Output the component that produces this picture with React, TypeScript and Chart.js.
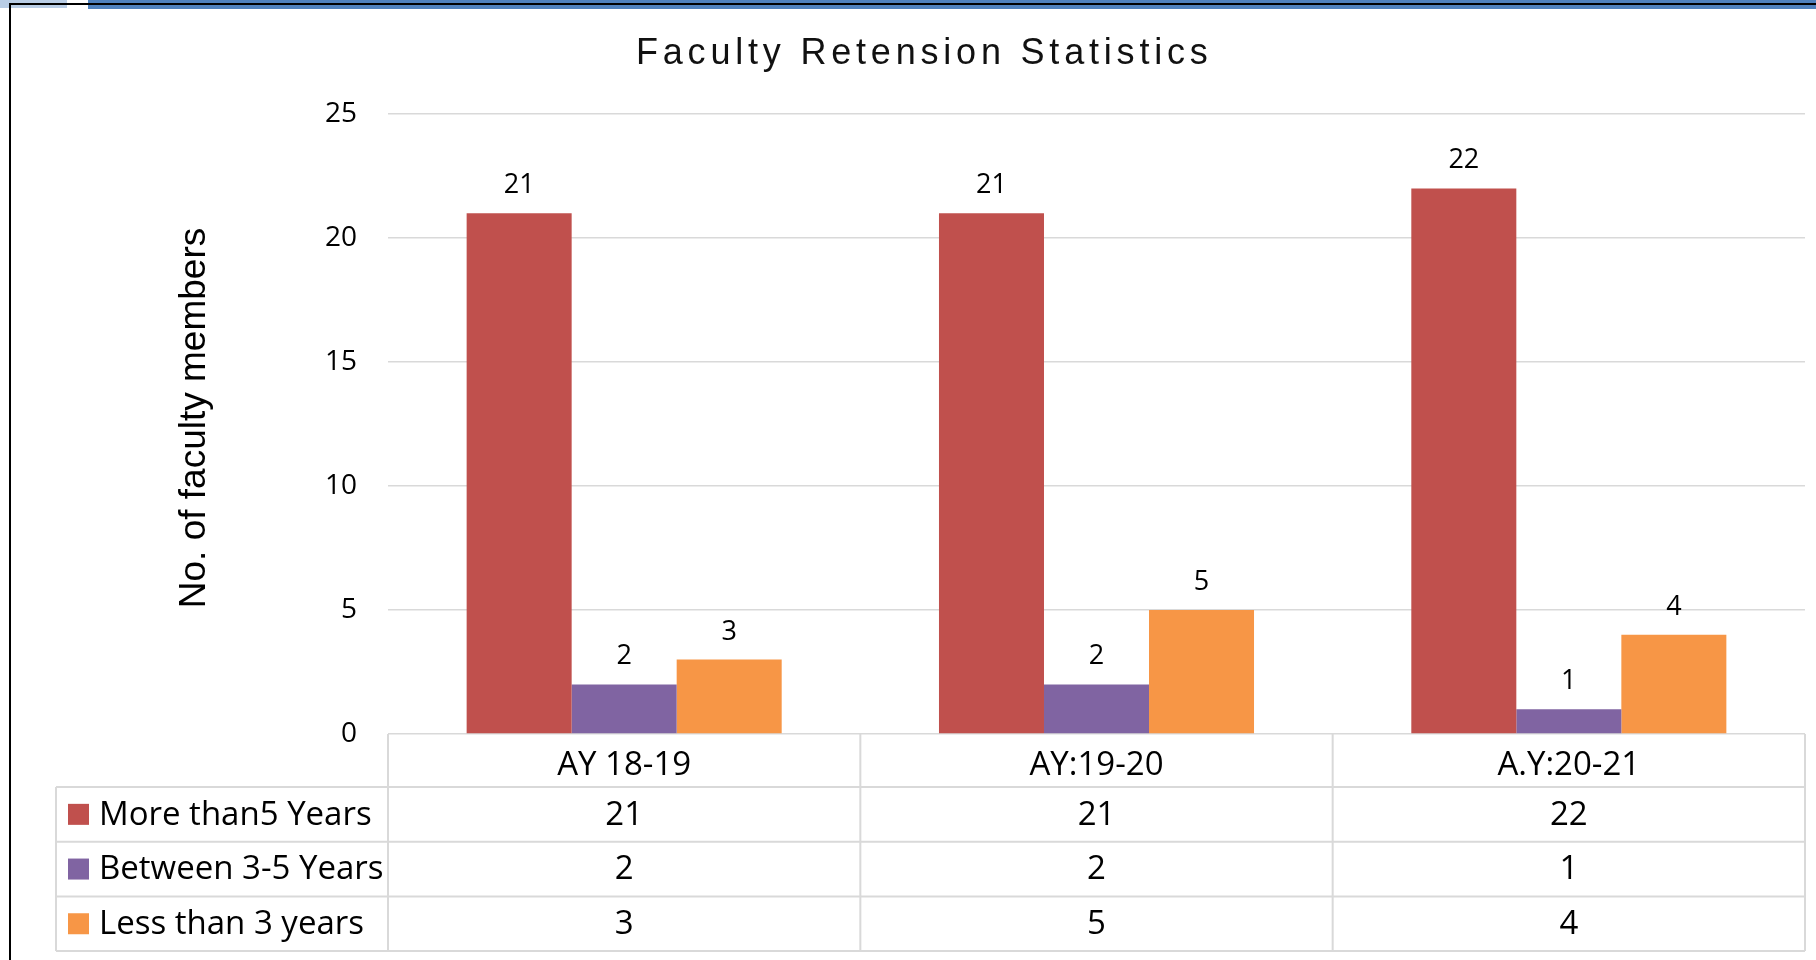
import React, { useEffect, useRef } from 'react';
import { Chart, registerables } from 'chart.js';

Chart.register(...registerables);

// ---- data ----
const categories = ['AY 18-19', 'AY:19-20', 'A.Y:20-21'];
const seriesNames = ['More than5 Years', 'Between 3-5 Years', 'Less than 3 years'];
const moreThan5Years = [21, 21, 22];
const between3to5Years = [2, 2, 1];
const lessThan3Years = [3, 5, 4];
const seriesColors = ['#C0504D', '#8064A2', '#F79646'];
const yMin = 0;
const yMax = 25;
const yStep = 5;
const chartTitle = 'Faculty Retension Statistics';
const yAxisTitle = 'No. of faculty members';

const W = 1816;
const H = 960;
const TABLE_FONT = '33px "Open Sans"';
const LINE = '#d9d9d9';

const decorPlugin = {
  id: 'decor',
  beforeDraw(chart: any) {
    const ctx = chart.ctx;
    ctx.save();
    ctx.fillStyle = '#ffffff';
    ctx.fillRect(0, 0, W, H);
    ctx.fillStyle = '#b9cde5';
    ctx.fillRect(0, 0, 67, 8);
    ctx.fillStyle = '#4f81bd';
    ctx.fillRect(88, 0, W - 88, 9);
    ctx.fillStyle = '#000000';
    ctx.fillRect(10, 3, W - 10, 2);
    ctx.fillRect(9, 3, 2, H - 3);
    ctx.restore();
  },
  afterDatasetsDraw(chart: any) {
    const ctx = chart.ctx;
    ctx.save();
    ctx.font = '27px "Open Sans"';
    ctx.fillStyle = '#000';
    ctx.textAlign = 'center';
    ctx.textBaseline = 'alphabetic';
    chart.data.datasets.forEach((ds: any, di: number) => {
      const meta = chart.getDatasetMeta(di);
      meta.data.forEach((el: any, i: number) => {
        ctx.fillText(String(ds.data[i]), el.x, el.y - 20);
      });
    });
    ctx.restore();
  },
  afterDraw(chart: any) {
    const ctx = chart.ctx;
    const area = chart.chartArea;
    ctx.save();
    // main title
    ctx.fillStyle = '#111';
    ctx.font = '36px "Liberation Sans"';
    (ctx as any).letterSpacing = '4.8px';
    ctx.textAlign = 'left';
    ctx.textBaseline = 'alphabetic';
    ctx.fillText(chartTitle, 636, 64);
    (ctx as any).letterSpacing = '0px';

    // y axis title
    ctx.save();
    ctx.translate(195, 418);
    ctx.rotate(-Math.PI / 2);
    ctx.font = '37px "Liberation Sans"';
    ctx.textAlign = 'center';
    ctx.textBaseline = 'middle';
    ctx.fillStyle = '#000';
    ctx.fillText(yAxisTitle, 0, 0);
    ctx.restore();

    // data table
    const n = categories.length;
    const left = area.left;
    const right = area.right;
    const top = area.bottom;
    const colW = (right - left) / n;
    const headerBottom = top + 53;
    const rowH = 54.7;
    const legendLeft = 56;
    const rowsAll = [moreThan5Years, between3to5Years, lessThan3Years];
    const tableBottom = headerBottom + rowH * rowsAll.length;

    ctx.strokeStyle = LINE;
    ctx.lineWidth = 2;
    ctx.beginPath();
    for (let r = 0; r <= rowsAll.length; r++) {
      const y = headerBottom + r * rowH;
      ctx.moveTo(legendLeft, y);
      ctx.lineTo(right, y);
    }
    for (let c = 0; c <= n; c++) {
      const x = left + c * colW;
      ctx.moveTo(x, top);
      ctx.lineTo(x, tableBottom);
    }
    ctx.moveTo(legendLeft, headerBottom);
    ctx.lineTo(legendLeft, tableBottom);
    ctx.stroke();

    ctx.font = TABLE_FONT;
    ctx.textBaseline = 'middle';
    rowsAll.forEach((vals, r) => {
      const cy = headerBottom + r * rowH + rowH / 2;
      ctx.fillStyle = seriesColors[r];
      ctx.fillRect(68, cy - 10.5, 21, 21);
      ctx.fillStyle = '#000';
      ctx.textAlign = 'left';
      ctx.fillText(seriesNames[r], 99, cy + 1);
      ctx.textAlign = 'center';
      vals.forEach((v, c) => {
        const cx = chart.scales.x.getPixelForValue(c);
        ctx.fillText(String(v), cx, cy + 1);
      });
    });
    ctx.restore();
  },
};

export default function App() {
  const ref = useRef<HTMLCanvasElement | null>(null);
  useEffect(() => {
    if (!ref.current) return;
    const chart = new Chart(ref.current, {
      type: 'bar',
      data: {
        labels: categories,
        datasets: [
          { label: seriesNames[0], data: moreThan5Years, backgroundColor: seriesColors[0] },
          { label: seriesNames[1], data: between3to5Years, backgroundColor: seriesColors[1] },
          { label: seriesNames[2], data: lessThan3Years, backgroundColor: seriesColors[2] },
        ],
      },
      options: {
        responsive: false,
        animation: false,
        devicePixelRatio: 1,
        layout: { padding: { top: 114, right: 11, left: 0, bottom: 0 } },
        datasets: { bar: { categoryPercentage: 0.667, barPercentage: 1 } } as any,
        plugins: {
          legend: { display: false },
          title: { display: false },
          tooltip: { enabled: false },
        },
        scales: {
          x: {
            grid: { display: false },
            border: { display: false },
            ticks: {
              font: { family: 'Open Sans', size: 33 },
              color: '#000',
              padding: 4,
              maxRotation: 0,
            },
            afterFit: (s: any) => {
              s.height = 226;
            },
          },
          y: {
            min: yMin,
            max: yMax,
            grid: { color: LINE, lineWidth: 1.5, drawTicks: false },
            border: { display: false },
            ticks: {
              stepSize: yStep,
              font: { family: 'Open Sans', size: 28 },
              color: '#000',
              padding: 31,
            },
            afterFit: (s: any) => {
              s.width = 388;
            },
          },
        },
      },
      plugins: [decorPlugin],
    });
    return () => chart.destroy();
  }, []);
  return (
    <div style={{ position: 'absolute', left: 0, top: 0, width: W, height: H }}>
      <canvas ref={ref} width={W} height={H} style={{ display: 'block', width: W, height: H }} />
    </div>
  );
}
